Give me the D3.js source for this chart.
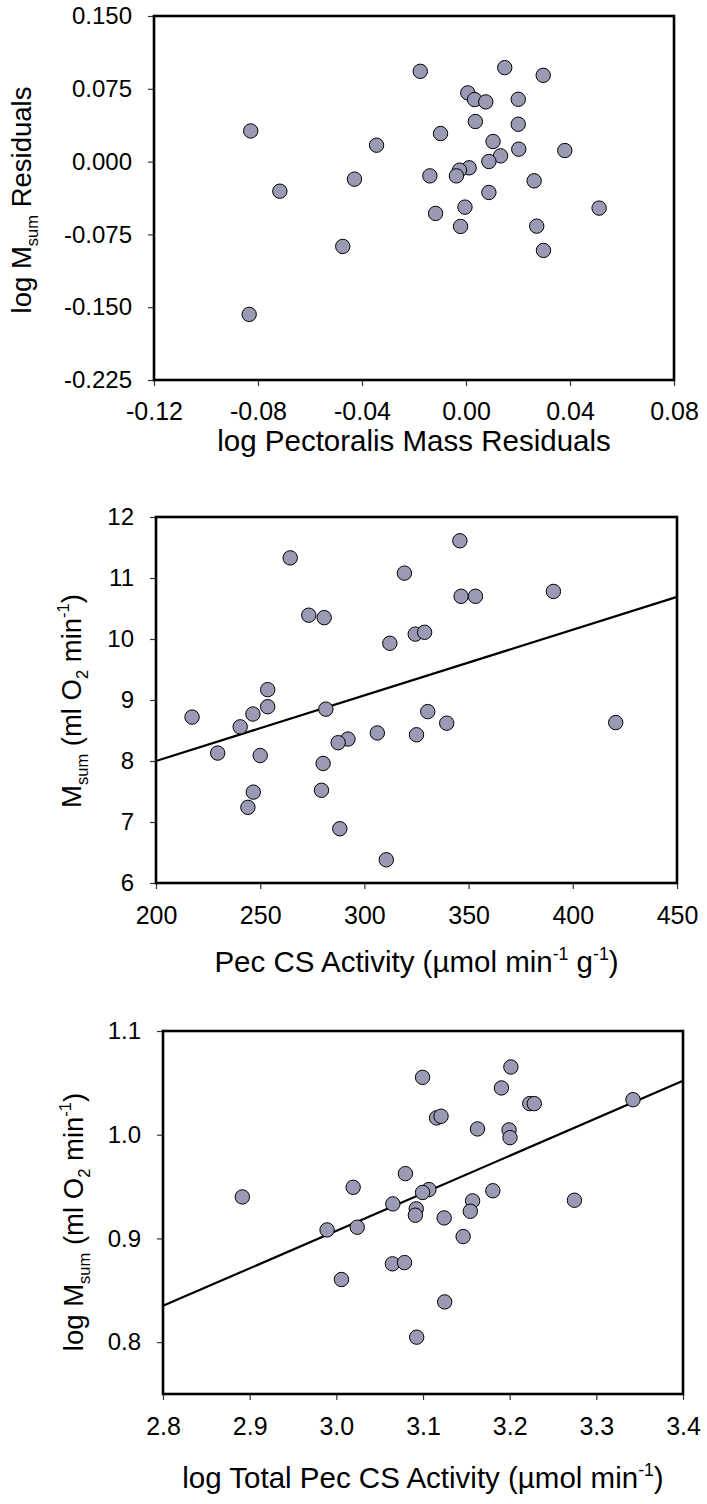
<!DOCTYPE html>
<html>
<head>
<meta charset="utf-8">
<script src="https://cdn.jsdelivr.net/npm/d3@7"></script>
<style>
  html, body { margin: 0; padding: 0; background: #fff; }
  svg { display: block; }
  text { font-family: Arial, "Liberation Sans", sans-serif; fill: #000; }
</style>
</head>
<body>
<svg id="chart" width="707" height="1504"></svg>
<script>
// ---------- Panel 1 data ----------
const p1X = [-0.0176, 0.0149, 0.0297, 0.0007, 0.0033, 0.0076, 0.0201, 0.0036, 0.0201, -0.0098,
             0.0104, 0.0203, 0.0380, 0.0133, 0.0088, 0.0012, -0.0025, -0.0037, -0.0139, -0.0429,
             0.0262, -0.0716, 0.0088, -0.0344, -0.0828, -0.0004, 0.0512, -0.0117, -0.0021, 0.0272,
             -0.0474, 0.0298, -0.0834];
const p1Y = [0.093, 0.0968, 0.0889, 0.0708, 0.0639, 0.0615, 0.0642, 0.0413, 0.0385, 0.0289,
             0.0207, 0.0128, 0.0114, 0.0059, 0.0001, -0.0064, -0.0088, -0.0147, -0.0147, -0.0181,
             -0.0198, -0.0305, -0.0318, 0.0169, 0.0316, -0.0469, -0.0479, -0.0534, -0.0668, -0.0665,
             -0.0874, -0.0915, -0.1574];
const p1XTicks = [-0.12, -0.08, -0.04, 0.00, 0.04, 0.08];
const p1XTickLabels = ["-0.12", "-0.08", "-0.04", "0.00", "0.04", "0.08"];
const p1YTicks = [0.150, 0.075, 0.000, -0.075, -0.150, -0.225];
const p1YTickLabels = ["0.150", "0.075", "0.000", "-0.075", "-0.150", "-0.225"];

// ---------- Panel 2 data ----------
const p2X = [264.4, 345.8, 319.2, 346.4, 353.3, 390.7, 273.3, 280.7, 324.4, 328.9,
             312.2, 253.6, 253.6, 246.5, 217.3, 240.4, 281.5, 330.4, 339.5, 420.6,
             306.2, 325.0, 292.1, 287.4, 229.6, 250.0, 280.2, 279.4, 246.7, 244.1,
             288.2, 310.5];
const p2Y = [11.33, 11.61, 11.08, 10.70, 10.70, 10.78, 10.39, 10.35, 10.08, 10.11,
             9.93, 9.17, 8.89, 8.77, 8.72, 8.56, 8.85, 8.81, 8.62, 8.63,
             8.46, 8.43, 8.36, 8.30, 8.13, 8.09, 7.96, 7.52, 7.49, 7.24,
             6.89, 6.38];
const p2FitX = [200, 450];
const p2FitY = [8.00, 10.69];
const p2XTicks = [200, 250, 300, 350, 400, 450];
const p2XTickLabels = ["200", "250", "300", "350", "400", "450"];
const p2YTicks = [6, 7, 8, 9, 10, 11, 12];
const p2YTickLabels = ["6", "7", "8", "9", "10", "11", "12"];

// ---------- Panel 3 data ----------
const p3X = [3.2014, 3.0995, 3.1905, 3.2232, 3.2284, 3.3423, 3.1156, 3.1208, 3.1629, 3.1993,
             3.2004, 3.0797, 3.0194, 2.8915, 3.1068, 3.0995, 3.1806, 3.1572, 3.2747, 3.0652,
             3.0922, 3.0912, 3.1546, 3.1244, 2.9893, 3.0241, 3.1463, 3.0647, 3.0787, 3.0059,
             3.1250, 3.0927];
const p3Y = [1.0653, 1.0553, 1.0451, 1.0300, 1.0300, 1.0338, 1.0162, 1.0178, 1.0056, 1.0046,
             0.9972, 0.9625, 0.9493, 0.9400, 0.9471, 0.9443, 0.9460, 0.9362, 0.9368, 0.9333,
             0.9285, 0.9224, 0.9262, 0.9198, 0.9082, 0.9108, 0.9018, 0.8755, 0.8767, 0.8604,
             0.8388, 0.8048];
const p3FitX = [2.8, 3.4];
const p3FitY = [0.835, 1.052];
const p3XTicks = [2.8, 2.9, 3.0, 3.1, 3.2, 3.3, 3.4];
const p3XTickLabels = ["2.8", "2.9", "3.0", "3.1", "3.2", "3.3", "3.4"];
const p3YTicks = [0.8, 0.9, 1.0, 1.1];
const p3YTickLabels = ["0.8", "0.9", "1.0", "1.1"];

// ---------- Layout ----------
const svg = d3.select("#chart");
const POINT_FILL = "#9a9ab4";
const XTICK_FONT = 25;
const YTICK_FONT = 24;
const XTITLE_FONT = 29.5;
const YTITLE_FONT = 27.5;

const panels = [
  { left: 154, right: 674, top: 16, bottom: 380,
    xDom: [-0.12, 0.08], yDom: [-0.225, 0.150],
    xs: p1X, ys: p1Y, fitX: null, fitY: null,
    xT: p1XTicks, xL: p1XTickLabels, yT: p1YTicks, yL: p1YTickLabels,
    xPad: 16, xTitleY: 451, yTitleX: 31, yTitleMid: 200,
    xTitle: [["log Pectoralis Mass Residuals", 0]],
    yTitle: [["log M", 0], ["sum", 1], [" Residuals", 0]] },
  { left: 156, right: 677, top: 517, bottom: 883,
    xDom: [200, 450], yDom: [6, 12],
    xs: p2X, ys: p2Y, fitX: p2FitX, fitY: p2FitY,
    xT: p2XTicks, xL: p2XTickLabels, yT: p2YTicks, yL: p2YTickLabels,
    xPad: 17, xTitleY: 972, yTitleX: 81, yTitleMid: 701,
    xTitle: [["Pec CS Activity (\u00B5mol min", 0], ["-1", 2], [" g", 0], ["-1", 2], [")", 0]],
    yTitle: [["M", 0], ["sum", 1], [" (ml O", 0], ["2", 1], [" min", 0], ["-1", 2], [")", 0]] },
  { left: 163, right: 683, top: 1031, bottom: 1394,
    xDom: [2.8, 3.4], yDom: [0.75, 1.1],
    xs: p3X, ys: p3Y, fitX: p3FitX, fitY: p3FitY,
    xT: p3XTicks, xL: p3XTickLabels, yT: p3YTicks, yL: p3YTickLabels,
    xPad: 17, xTitleY: 1488, yTitleX: 83, yTitleMid: 1222,
    xTitle: [["log Total Pec CS Activity (\u00B5mol min", 0], ["-1", 2], [")", 0]],
    yTitle: [["log M", 0], ["sum", 1], [" (ml O", 0], ["2", 1], [" min", 0], ["-1", 2], [")", 0]] }
];

function addRich(textSel, parts, size) {
  const SUB = 0.6;
  let shift = 0;
  parts.forEach(([str, kind]) => {
    const t = textSel.append("tspan").text(str);
    let target = 0;
    if (kind === 1) { t.attr("font-size", size * SUB); target = size * 0.25; }
    else if (kind === 2) { t.attr("font-size", size * SUB); target = -size * 0.42; }
    t.attr("dy", target - shift);
    shift = target;
  });
}

panels.forEach(p => {
  const x = d3.scaleLinear().domain(p.xDom).range([p.left, p.right]);
  const y = d3.scaleLinear().domain(p.yDom).range([p.bottom, p.top]);
  const g = svg.append("g");

  const xAxis = d3.axisBottom(x).tickValues(p.xT)
    .tickFormat((d, i) => p.xL[i]).tickSize(6).tickPadding(p.xPad);
  const yAxis = d3.axisLeft(y).tickValues(p.yT)
    .tickFormat((d, i) => p.yL[i]).tickSize(6).tickPadding(16);

  const gx = g.append("g").attr("transform", `translate(0,${p.bottom})`).call(xAxis);
  const gy = g.append("g").attr("transform", `translate(${p.left},0)`).call(yAxis);
  [[gx, XTICK_FONT], [gy, YTICK_FONT]].forEach(([a, fs]) => {
    a.select(".domain").remove();
    a.selectAll(".tick line").attr("stroke", "#333").attr("stroke-width", 1.2);
    a.selectAll(".tick text").attr("font-size", fs)
      .attr("font-family", "Arial, 'Liberation Sans', sans-serif").attr("fill", "#000");
  });

  // frame
  g.append("rect")
    .attr("x", p.left).attr("y", p.top)
    .attr("width", p.right - p.left).attr("height", p.bottom - p.top)
    .attr("fill", "none").attr("stroke", "#000").attr("stroke-width", 2.6);

  // regression line
  if (p.fitX) {
    const line = d3.line().x(d => x(d[0])).y(d => y(d[1]));
    g.append("path")
      .datum(p.fitX.map((v, i) => [v, p.fitY[i]]))
      .attr("d", line).attr("fill", "none")
      .attr("stroke", "#000").attr("stroke-width", 2.2);
  }

  // points
  g.append("g").selectAll("circle")
    .data(p.xs.map((v, i) => [v, p.ys[i]]))
    .join("circle")
    .attr("cx", d => x(d[0])).attr("cy", d => y(d[1]))
    .attr("r", 7.2)
    .attr("fill", POINT_FILL).attr("stroke", "#000").attr("stroke-width", 1);

  // x title
  const xt = g.append("text")
    .attr("x", (p.left + p.right) / 2).attr("y", p.xTitleY)
    .attr("text-anchor", "middle").attr("font-size", XTITLE_FONT);
  addRich(xt, p.xTitle, XTITLE_FONT);

  // y title
  const yt = g.append("text")
    .attr("transform", `translate(${p.yTitleX},${p.yTitleMid}) rotate(-90)`)
    .attr("text-anchor", "middle").attr("font-size", YTITLE_FONT);
  addRich(yt, p.yTitle, YTITLE_FONT);
});
</script>
</body>
</html>
